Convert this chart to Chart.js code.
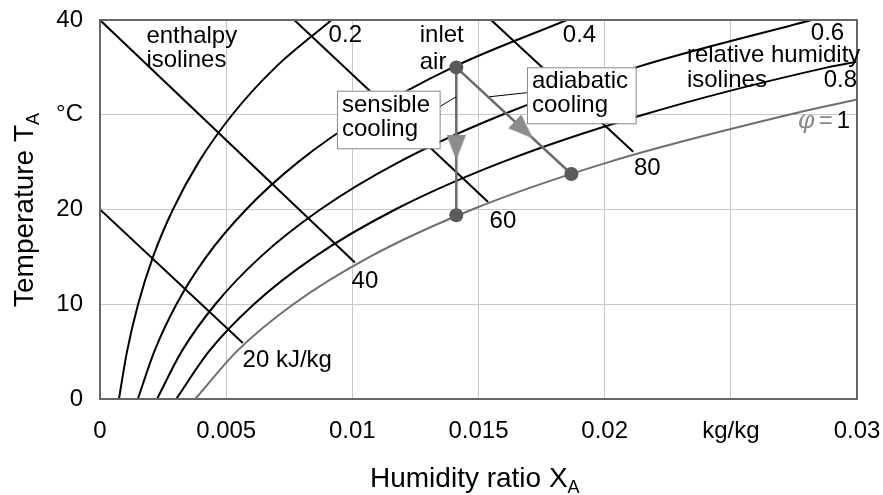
<!DOCTYPE html>
<html>
<head>
<meta charset="utf-8">
<script src="https://cdn.jsdelivr.net/npm/chart.js@4.4.0/dist/chart.umd.min.js"></script>
<style>
  html, body { margin: 0; padding: 0; background: #fff; }
</style>
</head>
<body>
<canvas id="psychroChart" width="883" height="495"></canvas>
<script>
// humidity ratio X (kg/kg) at each temperature (°C)
const tempSteps = [0, 5, 10, 15, 20, 25, 30, 35, 40];
const rh20X = [0.00075, 0.00107, 0.00151, 0.0021, 0.00289, 0.00391, 0.00524, 0.00695, 0.00918];
const rh40X = [0.0015, 0.00215, 0.00303, 0.00421, 0.00579, 0.00785, 0.01053, 0.01398, 0.0185];
const rh60X = [0.00226, 0.00323, 0.00457, 0.00636, 0.00873, 0.01184, 0.01594, 0.02125, 0.0282];
const rh80T = [0, 5, 10, 15, 20, 25, 30, 35, 35.6];
const rh80X = [0.00302, 0.00431, 0.0061, 0.0085, 0.0117, 0.01594, 0.02153, 0.02883, 0.03];
const satT = [0, 5, 10, 15, 20, 25, 30, 31.6];
const satX = [0.00378, 0.00541, 0.00766, 0.01069, 0.01475, 0.02016, 0.0273, 0.03];

// enthalpy isolines (kJ/kg), two ends each
const h20X = [0, 0.00566], h20T = [20, 5.9];
const h40X = [0, 0.0101], h40T = [40, 14.4];
const h60X = [0.0077, 0.01538], h60T = [40, 20.8];
const h80X = [0.0155, 0.02113], h80T = [40, 26.1];

// air states and processes
const stateX = [0.01412, 0.01412, 0.01868];
const stateT = [35.0, 19.4, 23.75];
const sensibleX = [0.01412, 0.01412], sensibleT = [35.0, 19.4];
const adiabaticX = [0.01412, 0.01868], adiabaticT = [35.0, 23.75];
const arrowX = [0.01412, 0.0168], arrowT = [26.5, 28.4];
const arrowTurn = [180, 133];

// ticks
const xTicks = [0, 0.005, 0.01, 0.015, 0.02, 0.025, 0.03];
const xTickText = ['0', '0.005', '0.01', '0.015', '0.02', 'kg/kg', '0.03'];
const yTicks = [0, 10, 20, 30, 40];
const yTickText = ['0', '10', '20', '°C', '40'];

function pts(xs, ys) {
  return xs.map((x, i) => ({ x: x, y: ys[i] }));
}

const FONT = '"Liberation Sans", Arial, sans-serif';

// arrow head image (points up, rotated per point)
const arrowHead = document.createElement('canvas');
arrowHead.width = 19;
arrowHead.height = 25;
(function () {
  const c = arrowHead.getContext('2d');
  c.fillStyle = '#8c8c8c';
  c.beginPath();
  c.moveTo(9.5, 0);
  c.lineTo(19, 25);
  c.lineTo(0, 25);
  c.closePath();
  c.fill();
})();

const plainLabels = [
  { text: 'enthalpy', x: 0.00184, y: 37.57 },
  { text: 'isolines', x: 0.00184, y: 35.04 },
  { text: '0.2', x: 0.00906, y: 37.7 },
  { text: 'inlet', x: 0.01267, y: 37.7 },
  { text: 'air', x: 0.01267, y: 34.8 },
  { text: '0.4', x: 0.01834, y: 37.7 },
  { text: '0.6', x: 0.02817, y: 37.9 },
  { text: 'relative humidity', x: 0.02326, y: 35.6 },
  { text: 'isolines', x: 0.02326, y: 32.95 },
  { text: '0.8', x: 0.03, y: 32.95, align: 'right' },
  { text: '80', x: 0.02116, y: 23.64 },
  { text: '60', x: 0.01544, y: 18.05 },
  { text: '40', x: 0.00997, y: 11.72 },
  { text: '20 kJ/kg', x: 0.00565, y: 3.41 }
];

const boxes = [
  { x0: 0.00939, y0: 32.54, x1: 0.01346, y1: 26.46, lines: ['sensible', 'cooling'] },
  { x0: 0.01692, y0: 35.01, x1: 0.02123, y1: 29.10, lines: ['adiabatic', 'cooling'] }
];
const leaders = [
  { x: [0.01346, 0.01412], y: [30.85, 31.9] },
  { x: [0.01544, 0.01692], y: [31.9, 32.33] }
];

const overlayPlugin = {
  id: 'overlay',
  afterDatasetsDraw(chart) {
    const ctx = chart.ctx;
    const xs = chart.scales.x, ys = chart.scales.y;
    const a = chart.chartArea;
    ctx.save();
    // frame
    ctx.strokeStyle = '#666';
    ctx.lineWidth = 2;
    ctx.strokeRect(a.left, a.top, a.right - a.left, a.bottom - a.top);

    ctx.fillStyle = '#000';
    ctx.font = '24px ' + FONT;
    ctx.textBaseline = 'alphabetic';
    plainLabels.forEach(l => {
      ctx.textAlign = l.align || 'left';
      ctx.fillText(l.text, xs.getPixelForValue(l.x), ys.getPixelForValue(l.y));
    });

    // phi = 1
    const px = xs.getPixelForValue(0.03) - 7, py = ys.getPixelForValue(28.6);
    ctx.textAlign = 'right';
    ctx.fillText('1', px, py);
    const w1 = ctx.measureText('1').width;
    ctx.fillStyle = '#888';
    ctx.fillText('=', px - w1 - 4, py);
    const w2 = ctx.measureText('=').width;
    ctx.font = 'italic 24px "DejaVu Serif", serif';
    ctx.fillText('φ', px - w1 - w2 - 8, py);

    // leader lines
    ctx.strokeStyle = '#000';
    ctx.lineWidth = 1;
    leaders.forEach(ld => {
      ctx.beginPath();
      ctx.moveTo(xs.getPixelForValue(ld.x[0]), ys.getPixelForValue(ld.y[0]));
      ctx.lineTo(xs.getPixelForValue(ld.x[1]), ys.getPixelForValue(ld.y[1]));
      ctx.stroke();
    });

    // boxed notes
    ctx.font = '24px ' + FONT;
    ctx.textAlign = 'left';
    boxes.forEach(b => {
      const l = xs.getPixelForValue(b.x0), t = ys.getPixelForValue(b.y0);
      const r = xs.getPixelForValue(b.x1), bt = ys.getPixelForValue(b.y1);
      ctx.fillStyle = '#fff';
      ctx.fillRect(l, t, r - l, bt - t);
      ctx.strokeStyle = '#888';
      ctx.lineWidth = 1;
      ctx.strokeRect(l + 0.5, t + 0.5, r - l, bt - t);
      ctx.fillStyle = '#000';
      b.lines.forEach((s, i) => ctx.fillText(s, l + 5, t + 21 + i * 24));
    });

    // axis titles with subscripts
    ctx.font = '28px ' + FONT;
    ctx.textAlign = 'left';
    ctx.fillText('Humidity ratio X', 370, 487);
    let tw = ctx.measureText('Humidity ratio X').width;
    ctx.font = '18px ' + FONT;
    ctx.fillText('A', 370 + tw, 493);

    ctx.translate(33, 307);
    ctx.rotate(-Math.PI / 2);
    ctx.font = '28px ' + FONT;
    ctx.fillText('Temperature T', 0, 0);
    tw = ctx.measureText('Temperature T').width;
    ctx.font = '18px ' + FONT;
    ctx.fillText('A', tw, 6);
    ctx.restore();
  }
};

const curve = (data, color) => ({
  data: data, showLine: true, borderColor: color, borderWidth: 2,
  pointRadius: 0, cubicInterpolationMode: 'monotone', order: 5
});
const straight = (data) => ({
  data: data, showLine: true, borderColor: '#000', borderWidth: 2,
  pointRadius: 0, order: 5
});

new Chart(document.getElementById('psychroChart').getContext('2d'), {
  type: 'scatter',
  data: {
    datasets: [
      { data: pts(stateX, stateT), pointRadius: 7, pointBackgroundColor: '#5a5a5a',
        pointBorderWidth: 0, showLine: false, order: 1 },
      { data: pts(arrowX, arrowT), pointStyle: arrowHead, pointRadius: 12,
        pointRotation: arrowTurn, showLine: false, order: 2 },
      { data: pts(sensibleX, sensibleT), showLine: true, borderColor: '#6a6a6a',
        borderWidth: 2.5, pointRadius: 0, order: 3 },
      { data: pts(adiabaticX, adiabaticT), showLine: true, borderColor: '#6a6a6a',
        borderWidth: 2.5, pointRadius: 0, order: 3 },
      curve(pts(satX, satT), '#6e6e6e'),
      curve(pts(rh80X, rh80T), '#000'),
      curve(pts(rh60X, tempSteps), '#000'),
      curve(pts(rh40X, tempSteps), '#000'),
      curve(pts(rh20X, tempSteps), '#000'),
      straight(pts(h20X, h20T)),
      straight(pts(h40X, h40T)),
      straight(pts(h60X, h60T)),
      straight(pts(h80X, h80T))
    ]
  },
  options: {
    responsive: false,
    animation: false,
    devicePixelRatio: 1,
    layout: { padding: { top: 20, right: 26, left: 0, bottom: 0 } },
    plugins: { legend: { display: false }, tooltip: { enabled: false } },
    scales: {
      x: {
        type: 'linear', min: 0, max: 0.03,
        afterFit: s => { s.height = 96; s.paddingLeft = 0; s.paddingRight = 0; },
        afterBuildTicks: s => { s.ticks = xTicks.map(v => ({ value: v })); },
        grid: { color: '#c8c8c8', lineWidth: 1, drawTicks: false },
        border: { display: false },
        ticks: {
          autoSkip: false, maxRotation: 0, padding: 18, color: '#000',
          font: { family: FONT, size: 24 },
          callback: (v, i) => xTickText[i]
        }
      },
      y: {
        type: 'linear', min: 0, max: 40,
        afterFit: s => { s.width = 100; s.paddingTop = 0; s.paddingBottom = 0; },
        afterBuildTicks: s => { s.ticks = yTicks.map(v => ({ value: v })); },
        grid: { color: '#c8c8c8', lineWidth: 1, drawTicks: false },
        border: { display: false },
        ticks: {
          padding: 17, color: '#000',
          font: { family: FONT, size: 24 },
          callback: (v, i) => yTickText[i]
        }
      }
    }
  },
  plugins: [overlayPlugin]
});
</script>
</body>
</html>
